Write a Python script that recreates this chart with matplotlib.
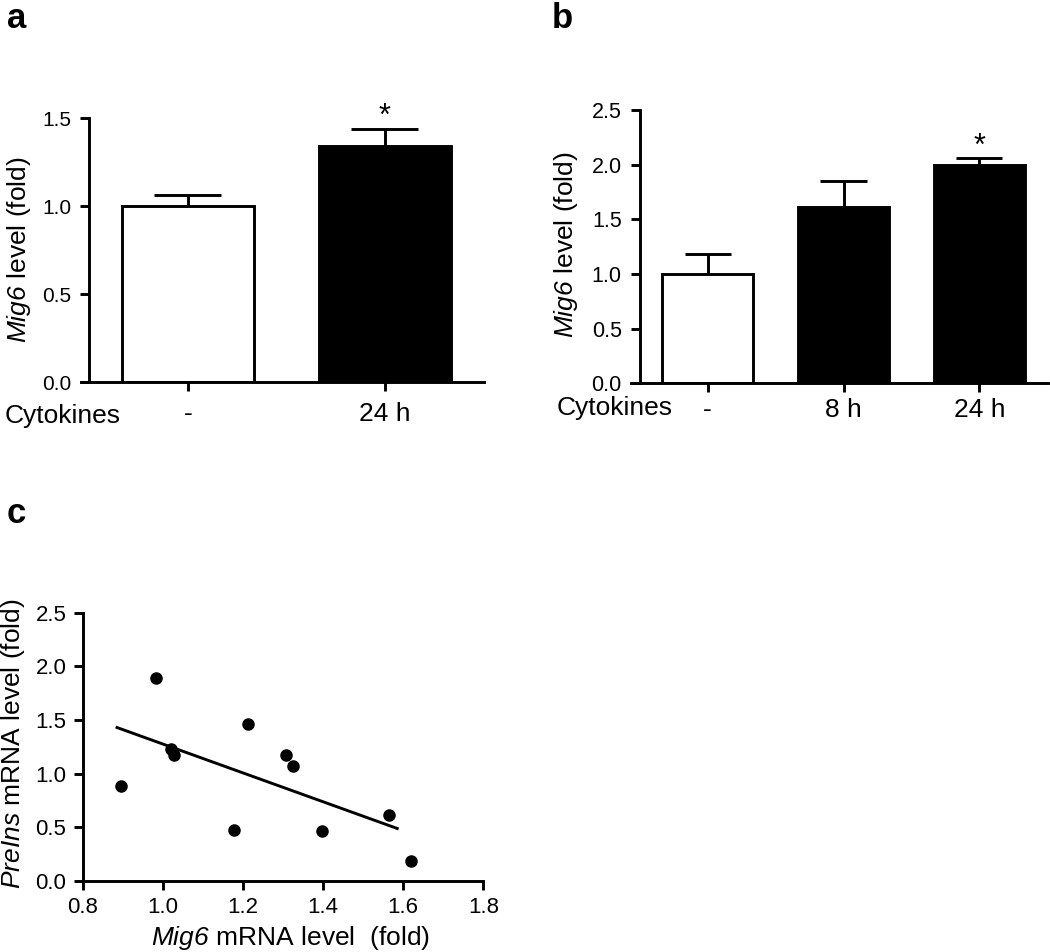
import numpy as np
import matplotlib
matplotlib.use("Agg")
import matplotlib.pyplot as plt

plt.rcParams['font.family'] = ['Liberation Sans', 'DejaVu Sans']
plt.rcParams['mathtext.fontset'] = 'custom'
plt.rcParams['mathtext.rm'] = 'Liberation Sans'
plt.rcParams['mathtext.it'] = 'Liberation Sans:italic'
plt.rcParams['mathtext.sf'] = 'Liberation Sans:italic'
plt.rcParams['mathtext.bf'] = 'Liberation Sans:bold'

# ---- data ----
a_labels = ['-', '24 h']
a_means = [1.0, 1.34]
a_err = [0.06, 0.10]
a_sig = [False, True]

b_labels = ['-', '8 h', '24 h']
b_means = [1.0, 1.61, 2.0]
b_err = [0.18, 0.24, 0.06]
b_sig = [False, False, True]

c_mig6 = [0.895, 0.982, 1.019, 1.027, 1.211, 1.177, 1.307, 1.324, 1.397, 1.564, 1.620]
c_preins = [0.883, 1.894, 1.226, 1.175, 1.465, 0.473, 1.175, 1.073, 0.466, 0.610, 0.181]
c_fit_range = [0.885, 1.585]

W, H = 1050, 952
fig = plt.figure(figsize=(W / 100, H / 100), dpi=100)

LW = 2.1


def px_axes(left, right, bottom, top):
    return fig.add_axes([left / W, 1 - bottom / H, (right - left) / W, (bottom - top) / H])


def style(ax):
    for s in ['top', 'right']:
        ax.spines[s].set_visible(False)
    for s in ['left', 'bottom']:
        ax.spines[s].set_linewidth(LW)
        ax.spines[s].set_zorder(5)
    ax.tick_params(direction='out', width=LW, length=6.5, color='black')


def bar_panel(ax, labels, means, err, sig, xlim, ylim, yticks, ytick_size, xpad, star_off):
    style(ax)
    x = np.arange(len(means))
    colors = ['white'] + ['black'] * (len(means) - 1)
    ax.bar(x, means, width=0.67, color=colors, edgecolor='black', linewidth=LW, zorder=2)
    ax.errorbar(x, means, yerr=[np.zeros(len(err)), err], fmt='none', ecolor='black',
                elinewidth=LW, capsize=0, zorder=3)
    cap_half = 0.17
    for xi, m, e in zip(x, means, err):
        ax.plot([xi - cap_half, xi + cap_half], [m + e, m + e], color='black', lw=LW,
                solid_capstyle='butt', zorder=3)
    for xi, m, e, s in zip(x, means, err, sig):
        if s:
            ax.annotate('*', xy=(xi, m + e), xytext=(0, star_off), textcoords='offset points',
                        ha='center', va='center', fontsize=22)
    ax.set_xlim(*xlim)
    ax.set_ylim(*ylim)
    ax.spines['left'].set_position(('data', -0.5))
    ax.set_yticks(yticks)
    ax.set_yticklabels([f'{v:.1f}' for v in yticks])
    ax.set_xticks(x)
    ax.set_xticklabels(labels)
    ax.tick_params(axis='y', labelsize=ytick_size, pad=6.5)
    ax.tick_params(axis='x', labelsize=19, pad=xpad)


# panel a
ax_a = px_axes(81, 484, 382, 118)
bar_panel(ax_a, a_labels, a_means, a_err, a_sig, (-0.543, 1.503), (0, 1.5),
          [0.0, 0.5, 1.0, 1.5], 15, 8, 8.6)
ax_a.set_ylabel(r'$\mathsf{Mig6}$ level (fold)', fontsize=19)
ax_a.yaxis.set_label_coords(-0.12, 0.5)

# panel b
ax_b = px_axes(631, 1048, 383.3, 110)
bar_panel(ax_b, b_labels, b_means, b_err, b_sig, (-0.565, 2.506), (0, 2.5),
          [0.0, 0.5, 1.0, 1.5, 2.0, 2.5], 15.5, 4, 8.0)
ax_b.set_ylabel(r'$\mathsf{Mig6}$ level (fold)', fontsize=19)
ax_b.yaxis.set_label_coords(-0.122, 0.508)

fig.text(5 / W, 1 - 423 / H, 'Cytokines', fontsize=19, va='baseline')
fig.text(557 / W, 1 - 415 / H, 'Cytokines', fontsize=19, va='baseline')

# panel c
ax_c = px_axes(83, 483.3, 880.7, 612.7)
style(ax_c)
ax_c.scatter(c_mig6, c_preins, s=64, color='black', zorder=4, clip_on=False)
slope, intercept = np.polyfit(c_mig6, c_preins, 1)
fx = np.array(c_fit_range)
ax_c.plot(fx, slope * fx + intercept, color='black', lw=LW, zorder=3)
ax_c.set_xlim(0.8, 1.8)
ax_c.set_ylim(0, 2.5)
ax_c.set_xticks([0.8, 1.0, 1.2, 1.4, 1.6, 1.8])
ax_c.set_xticklabels(['0.8', '1.0', '1.2', '1.4', '1.6', '1.8'])
ax_c.set_yticks([0.0, 0.5, 1.0, 1.5, 2.0, 2.5])
ax_c.set_yticklabels(['0.0', '0.5', '1.0', '1.5', '2.0', '2.5'])
ax_c.tick_params(labelsize=16, pad=5.5)
ax_c.set_xlabel(r'$\mathsf{Mig6}$ mRNA level  (fold)', fontsize=19)
ax_c.xaxis.set_label_coords(0.518, -0.16)
ax_c.set_ylabel(r'$\mathsf{PreIns}$ mRNA level (fold)', fontsize=19)
ax_c.yaxis.set_label_coords(-0.14, 0.51)

# panel letters
fig.text(7 / W, 1 - 28 / H, 'a', fontsize=25, weight='bold', va='baseline')
fig.text(552 / W, 1 - 28 / H, 'b', fontsize=25, weight='bold', va='baseline')
fig.text(7 / W, 1 - 523 / H, 'c', fontsize=25, weight='bold', va='baseline')

fig.savefig('out.png', dpi=100)
